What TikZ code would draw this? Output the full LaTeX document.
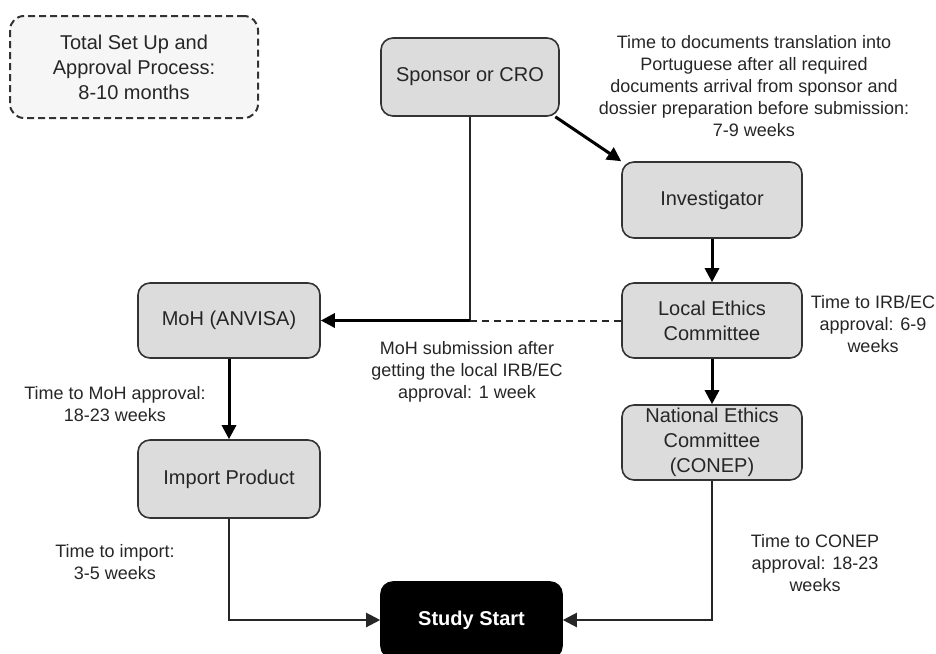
\documentclass[tikz,border=0pt]{standalone}
\usepackage{fontspec}
\setmainfont{Liberation Sans}
\usetikzlibrary{arrows.meta}
\definecolor{boxfill}{HTML}{DCDCDC}
\definecolor{boxline}{HTML}{333333}
\definecolor{notefill}{HTML}{F6F6F6}
\begin{document}
\begin{tikzpicture}[x=1pt,y=-1pt,
  proc/.style={draw=boxline, fill=boxfill, line width=1.6pt, rounded corners=12pt, align=center, inner sep=0pt, font=\fontsize{20}{25}\selectfont, text=black!85},
  lbl/.style={align=center, inner sep=0pt, font=\fontsize{18}{22}\selectfont, text=black!85},
  arr/.style={-{Triangle[length=14pt,width=14pt]}, line width=3pt},
  thinarr/.style={-{Triangle[length=14pt,width=14pt]}, line width=2.2pt, draw=black!85},
]
\useasboundingbox (0,0) rectangle (936,653);
\clip (0,0) rectangle (936,653);
% notes box
\node[proc, fill=notefill, line width=2pt, dash pattern=on 7pt off 4pt, rounded corners=14pt, minimum width=248pt, minimum height=102pt] (total) at (134,67) {Total Set Up and\\Approval Process:\\8-10 months};
% process boxes
\node[proc, minimum width=178pt, minimum height=78pt] (spons) at (470,77) {Sponsor or CRO};
\node[proc, minimum width=180pt, minimum height=76pt] (inv) at (712,200) {Investigator};
\node[proc, minimum width=180pt, minimum height=75pt] (local) at (712,320.5) {Local Ethics\\Committee};
\node[proc, minimum width=180pt, minimum height=75pt] (nat) at (712,442.5) {National Ethics\\Committee\\(CONEP)};
\node[proc, minimum width=182pt, minimum height=75pt] (moh) at (229,320.5) {MoH (ANVISA)};
\node[proc, minimum width=182pt, minimum height=78pt] (imp) at (229,479) {Import Product};
\node[proc, fill=black, draw=black, text=white, font=\fontsize{20}{25}\selectfont\bfseries, minimum width=181pt, minimum height=76pt] (study) at (471.5,620) {Study Start};
% labels
\node[lbl] (ltrans) at (754,86) {Time to documents translation into\\Portuguese after all required\\documents arrival from sponsor and\\dossier preparation before submission:\\7-9 weeks};
\node[lbl] (lirb) at (873,324) {Time to IRB/EC\\approval: 6-9\\weeks};
\node[lbl] (lsub) at (467,372) {MoH submission after\\getting the local IRB/EC\\approval: 1 week};
\node[lbl] (lmoh) at (115,404) {Time to MoH approval:\\18-23 weeks};
\node[lbl] (limp) at (115,562) {Time to import:\\3-5 weeks};
\node[lbl] (lconep) at (815,563) {Time to CONEP\\approval: 18-23\\weeks};
% connectors
\coordinate (j) at (spons.south |- moh.east);
\draw[line width=2pt, draw=black!85] (spons.south) -- (j);
\draw[arr] (j) -- (moh.east);
\draw[line width=2pt, draw=black!85, dash pattern=on 7pt off 5pt] (local.west) -- (j);
\draw[arr] (spons.-25) -- (inv.north west);
\draw[arr] (inv.south) -- (local.north);
\draw[arr] (local.south) -- (nat.north);
\draw[arr] (moh.south) -- (imp.north);
\draw[thinarr] (imp.south) |- (study.west);
\draw[thinarr] (nat.south) |- (study.east);
\end{tikzpicture}
\end{document}
